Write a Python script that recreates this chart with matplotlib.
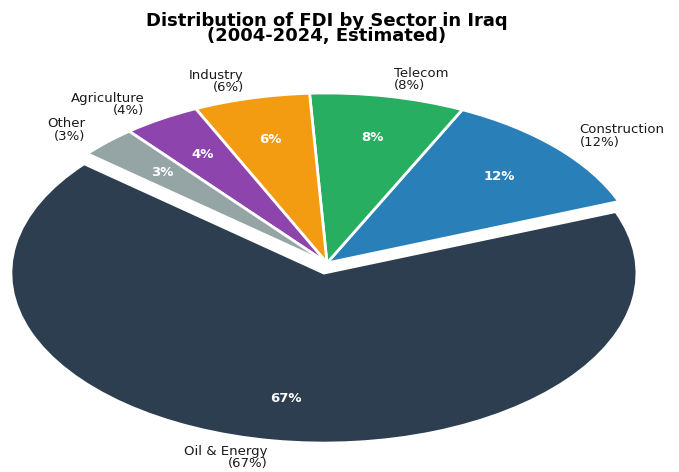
import matplotlib
matplotlib.use("Agg")
import matplotlib.pyplot as plt

sectors = ["Oil & Energy", "Construction", "Telecom", "Industry", "Agriculture", "Other"]
shares = [67, 12, 8, 6, 4, 3]
colors = ["#2c3e50", "#2980b9", "#27ae60", "#f39c12", "#8e44ad", "#95a5a6"]
explode = [0.06, 0, 0, 0, 0, 0]
labels = [f"{s}\n({v}%)" for s, v in zip(sectors, shares)]

W, H = 679, 472
fig = plt.figure(figsize=(W / 100, H / 100), dpi=100)

# pie centre and radii in pixels (pie is drawn stretched horizontally)
cx, cy = 327, 472 - 263
rx, ry = 313, 170
lim = 1.4
ax = fig.add_axes([(cx - lim * rx) / W, (cy - lim * ry) / H,
                   2 * lim * rx / W, 2 * lim * ry / H])

wedges, texts, autotexts = ax.pie(
    shares, labels=labels, colors=colors, explode=explode,
    startangle=140, autopct="%1.0f%%", pctdistance=0.75, labeldistance=1.1,
    wedgeprops=dict(edgecolor="white", linewidth=2),
    textprops=dict(fontsize=9.5, color="#1a1a1a"))
for t in texts:
    t.set_linespacing(0.95)
for t in autotexts:
    t.set_color("white")
    t.set_fontweight("bold")
    t.set_fontsize(9.5)

ax.set_aspect("auto")
ax.set_xlim(-lim, lim)
ax.set_ylim(-lim, lim)
ax.axis("off")

fig.text(cx / W, 1 - 12 / H, "Distribution of FDI by Sector in Iraq\n(2004-2024, Estimated)",
         ha="center", va="top", fontsize=13, fontweight="bold", linespacing=0.8)

fig.savefig("out.png", dpi=100)
